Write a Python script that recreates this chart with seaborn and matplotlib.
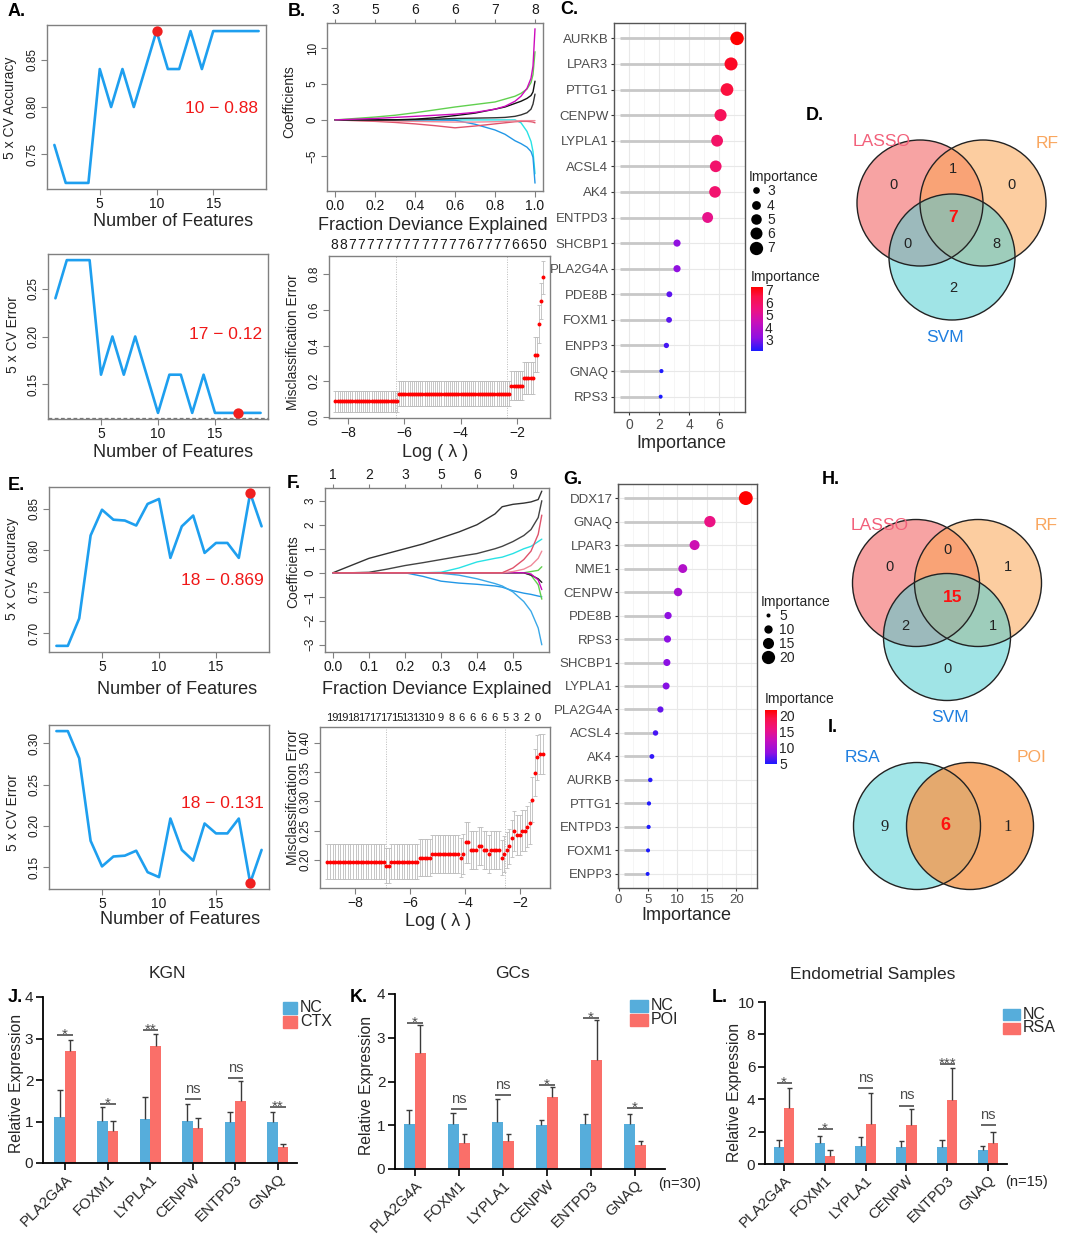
import numpy as np
import pandas as pd
import matplotlib
matplotlib.use("Agg")
import matplotlib.pyplot as plt
import seaborn as sns
from matplotlib.patches import Circle, Rectangle
from matplotlib.lines import Line2D
from matplotlib.colors import LinearSegmentedColormap, Normalize
from matplotlib.cm import ScalarMappable

# ======================= DATA =======================
# A / E : SVM-RFE 5x CV curves
n_features = list(range(1, 20))
svm_a_accuracy = [0.76, 0.72, 0.72, 0.72, 0.84, 0.80, 0.84, 0.80, 0.84, 0.88,
                  0.84, 0.84, 0.88, 0.84, 0.88, 0.88, 0.88, 0.88, 0.88]
svm_a_error = [0.24, 0.28, 0.28, 0.28, 0.16, 0.20, 0.16, 0.20, 0.16, 0.12,
               0.16, 0.16, 0.12, 0.16, 0.12, 0.12, 0.12, 0.12, 0.12]
svm_a_best_acc = (10, 0.88)
svm_a_best_err = (17, 0.12)
svm_e_accuracy = [0.685, 0.685, 0.718, 0.818, 0.849, 0.837, 0.836, 0.830, 0.856, 0.862,
                  0.791, 0.829, 0.842, 0.797, 0.809, 0.809, 0.791, 0.869, 0.829]
svm_e_error = [0.315, 0.315, 0.282, 0.182, 0.151, 0.163, 0.164, 0.170, 0.144, 0.138,
               0.209, 0.171, 0.158, 0.203, 0.191, 0.191, 0.209, 0.131, 0.171]
svm_e_best_acc = (18, 0.869)
svm_e_best_err = (18, 0.131)

# B : LASSO coefficient paths (fraction deviance explained)
b_frac = [0, 0.1, 0.2, 0.3, 0.4, 0.5, 0.6, 0.7, 0.8, 0.85, 0.9, 0.93, 0.96, 0.98, 0.99, 1.0]
b_paths = [
    [0, 0, 0, 0, 0, 0, 0, 0, 0, 0, 0, -0.4, -1.6, -3.0, -4.4, -7.5],
    [0, 0, 0, 0, 0, 0, -0.05, -0.6, -1.4, -2.0, -2.9, -3.3, -3.8, -4.4, -5.2, -8.8],
    [0, -0.1, -0.2, -0.35, -0.55, -0.8, -1.1, -0.85, -0.55, -0.4, -0.25, -0.2, -0.2, -0.25, -0.3, -0.4],
    [0, -0.05, -0.1, -0.15, -0.2, -0.25, -0.3, -0.3, -0.25, -0.2, -0.15, -0.1, -0.1, -0.1, -0.1, -0.1],
    [0, 0, 0, 0, 0.05, 0.1, 0.2, 0.25, 0.3, 0.35, 0.5, 0.7, 1.0, 1.5, 2.2, 3.6],
    [0, 0, 0, 0.02, 0.1, 0.3, 0.6, 0.95, 1.5, 1.8, 2.3, 2.6, 3.0, 3.4, 3.9, 5.4],
    [0, 0.2, 0.4, 0.65, 1.0, 1.4, 1.8, 2.15, 2.5, 2.9, 3.3, 3.7, 4.3, 5.2, 6.3, 9.5],
    [0, 0.1, 0.2, 0.35, 0.5, 0.65, 0.8, 1.05, 1.5, 1.9, 2.6, 3.3, 4.4, 5.8, 7.5, 12.7],
]
b_path_colors = ["#28E2E5", "#2297E6", "#DF536B", "#F08A9A", "#333333", "#111111", "#61D04F", "#CD0BBC"]
b_top_labels = [3, 5, 6, 6, 7, 8]

# B bottom : LASSO CV misclassification (mean, sd, number of lambdas)
b_cv_segments = [(0.088, 0.060, 30), (0.130, 0.070, 53), (0.175, 0.080, 6), (0.218, 0.088, 5),
                 (0.348, 0.098, 2), (0.520, 0.105, 1), (0.650, 0.100, 1), (0.780, 0.090, 1)]
b_log_lambda_range = (-8.45, -1.07)
b_lambda_lines = [-6.3, -2.36]
b_cv_top_counts = [8, 8, 7, 7, 7, 7, 7, 7, 7, 7, 7, 7, 7, 7, 7, 6, 7, 7, 7, 7, 6, 6, 5, 0]

# F : LASSO coefficient paths, second cohort
f_frac = [0, 0.05, 0.1, 0.15, 0.2, 0.25, 0.3, 0.35, 0.4, 0.45, 0.47, 0.5, 0.53, 0.55, 0.57, 0.58]
f_paths = [
    [0, 0.3, 0.6, 0.8, 1.0, 1.2, 1.45, 1.7, 2.0, 2.45, 2.75, 2.85, 2.9, 2.95, 3.05, 3.4],
    [0, 0, 0.02, 0.15, 0.3, 0.42, 0.55, 0.68, 0.8, 1.0, 1.1, 1.3, 1.55, 1.8, 2.3, 3.0],
    [0, 0, 0, 0, 0, 0, 0.02, 0.2, 0.45, 0.6, 0.65, 0.8, 1.0, 1.1, 1.3, 1.4],
    [0, 0, 0, 0, 0, -0.15, -0.35, -0.43, -0.48, -0.55, -0.6, -0.75, -0.85, -0.9, -0.97, -1.0],
    [0, 0, 0, 0, 0, 0, -0.02, -0.1, -0.25, -0.45, -0.55, -0.8, -1.2, -1.6, -2.3, -3.0],
    [0, 0, 0, 0, 0, 0, 0, 0, 0, 0, 0, 0, 0, 0.05, 0.1, 0.25],
    [0, 0, 0, 0, 0, 0, 0, 0, 0, 0, 0, 0, 0, -0.1, -0.5, -1.1],
    [0, 0, 0, 0, 0, 0, 0, 0, 0, 0, 0, 0, 0, -0.1, -0.25, -0.4],
    [0, 0, 0, 0, 0, 0, 0, 0, 0, 0, 0, 0, 0, -0.05, -0.3, -0.7],
    [0, 0, 0, 0, 0, 0, 0, 0, 0, 0, 0, 0.05, 0.15, 0.3, 0.6, 0.9],
    [0, 0, 0, 0, 0, 0, 0, 0, 0, 0, 0, 0.2, 0.55, 0.9, 1.6, 2.4],
]
f_path_colors = ["#333333", "#444444", "#28E2E5", "#2297E6", "#3AA8E8", "#61D04F", "#61D04F",
                 "#222222", "#CD0BBC", "#F08A9A", "#DF536B"]
f_top_labels = [1, 2, 3, 5, 6, 9]

f_cv_segments = [
    (0.197, 0.030, 23), (0.190, 0.030, 2), (0.197, 0.030, 11), (0.204, 0.031, 5), (0.210, 0.033, 11),
    (0.204, 0.034, 1), (0.210, 0.034, 1), (0.230, 0.035, 2), (0.217, 0.033, 3), (0.224, 0.032, 2),
    (0.217, 0.032, 2), (0.210, 0.032, 1), (0.217, 0.032, 4), (0.204, 0.030, 1), (0.210, 0.030, 1),
    (0.217, 0.031, 1), (0.223, 0.030, 1), (0.237, 0.032, 1), (0.250, 0.034, 1), (0.243, 0.034, 2),
    (0.250, 0.035, 2), (0.257, 0.035, 1), (0.263, 0.036, 1), (0.303, 0.038, 1), (0.349, 0.040, 1),
    (0.375, 0.038, 1), (0.381, 0.034, 2)]
f_log_lambda_range = (-9.0, -1.2)
f_lambda_lines = [-6.88, -2.57]
f_cv_top_counts = [19, 19, 18, 17, 17, 17, 15, 13, 13, 10, 9, 8, 6, 6, 6, 6, 5, 3, 2, 0]

# C / G : random forest importance
c_genes = ["AURKB", "LPAR3", "PTTG1", "CENPW", "LYPLA1", "ACSL4", "AK4", "ENTPD3",
           "SHCBP1", "PLA2G4A", "PDE8B", "FOXM1", "ENPP3", "GNAQ", "RPS3"]
c_importance = [7.2, 6.8, 6.53, 6.1, 5.87, 5.78, 5.73, 5.24, 3.2, 3.2, 2.69, 2.67, 2.49, 2.16, 2.11]
g_genes = ["DDX17", "GNAQ", "LPAR3", "NME1", "CENPW", "PDE8B", "RPS3", "SHCBP1", "LYPLA1",
           "PLA2G4A", "ACSL4", "AK4", "AURKB", "PTTG1", "ENTPD3", "FOXM1", "ENPP3"]
g_importance = [21.6, 15.5, 12.9, 10.9, 10.1, 8.4, 8.3, 8.2, 8.07, 7.1, 6.27, 5.66, 5.38,
                5.16, 5.1, 5.0, 4.93]
c_size_legend = [3, 4, 5, 6, 7]
g_size_legend = [5, 10, 15, 20]

# D / H / I : Venn counts  (order: A only, A&B, B only, all, A&C, B&C, C only)
venn_d_counts = [0, 1, 0, 7, 0, 8, 2]
venn_h_counts = [0, 0, 1, 15, 2, 1, 0]
venn_sets = ["LASSO", "RF", "SVM"]
venn_i_sets = ["RSA", "POI"]
venn_i_counts = [9, 6, 1]

# J / K / L : qPCR
qpcr_genes = ["PLA2G4A", "FOXM1", "LYPLA1", "CENPW", "ENTPD3", "GNAQ"]
kgn_nc = [1.12, 1.02, 1.06, 1.02, 0.99, 0.99]
kgn_nc_top = [1.76, 1.36, 1.58, 1.42, 1.22, 1.22]
kgn_ctx = [2.70, 0.77, 2.82, 0.85, 1.50, 0.39]
kgn_ctx_top = [2.97, 1.01, 3.10, 1.08, 1.97, 0.46]
kgn_sig = ["*", "*", "**", "ns", "ns", "**"]
kgn_sig_y = [3.09, 1.42, 3.21, 1.54, 2.04, 1.34]

gcs_nc = [1.03, 1.02, 1.08, 1.00, 1.02, 1.02]
gcs_nc_top = [1.35, 1.29, 1.60, 1.12, 1.25, 1.25]
gcs_poi = [2.66, 0.60, 0.64, 1.64, 2.50, 0.54]
gcs_poi_top = [3.30, 0.80, 0.79, 1.87, 3.40, 0.64]
gcs_sig = ["*", "ns", "ns", "*", "*", "*"]
gcs_sig_y = [3.34, 1.37, 1.69, 1.92, 3.45, 1.39]

endo_nc = [1.05, 1.29, 1.09, 1.05, 1.05, 0.88]
endo_nc_top = [1.50, 1.70, 1.64, 1.39, 1.50, 1.09]
endo_rsa = [3.44, 0.51, 2.50, 2.42, 3.95, 1.29]
endo_rsa_top = [4.71, 0.86, 4.36, 3.42, 5.90, 2.00]
endo_sig = ["*", "*", "ns", "ns", "***", "ns"]
endo_sig_y = [5.02, 2.15, 4.67, 3.60, 6.20, 2.42]

# ======================= STYLE / LAYOUT =======================
W, H = 1065, 1236
sns.set_style("ticks")
plt.rcParams['font.family'] = ['Liberation Sans', 'DejaVu Sans']
plt.rcParams['axes.unicode_minus'] = True

fig = plt.figure(figsize=(W / 100, H / 100), dpi=100)
MINUS = "\u2212"


def px_axes(l, t, r, b, **kw):
    return fig.add_axes([l / W, 1 - b / H, (r - l) / W, (b - t) / H], **kw)


def ftext(x, y, s, **kw):
    kw.setdefault('ha', 'center')
    kw.setdefault('va', 'center')
    fig.text(x / W, 1 - y / H, s, **kw)


def fmt(v, d):
    s = f"{v:.{d}f}"
    return s.replace("-", MINUS)


def r_style(ax, xlim, ylim, xticks, yticks, xd=0, yd=2, xsize=10, ysize=8.5):
    ax.set_xlim(*xlim)
    ax.set_ylim(*ylim)
    ax.set_xticks(xticks)
    ax.set_xticklabels([fmt(v, xd) for v in xticks])
    ax.set_yticks(yticks)
    ax.set_yticklabels([fmt(v, yd) for v in yticks], rotation=90, va='center')
    for s in ax.spines.values():
        s.set_visible(True)
        s.set_color('#808080')
        s.set_linewidth(1.0)
    ax.tick_params(axis='both', direction='out', length=4, width=0.8, color='#808080',
                   labelcolor='#1a1a1a', pad=2)
    ax.tick_params(axis='x', labelsize=xsize, pad=1.5)
    ax.tick_params(axis='y', labelsize=ysize)
    ax.set_xlabel('')
    ax.set_ylabel('')


LINE_BLUE = "#1E9FEF"


def svm_panel(box, yvals, best, ylim, yticks, txt_xy, ylabel, ylabel_xy, xlabel_xy, dashed=False):
    ax = px_axes(*box)
    sns.lineplot(x=n_features, y=yvals, color=LINE_BLUE, lw=1.9, ax=ax)
    sns.scatterplot(x=[best[0]], y=[best[1]], color="#F02020", s=55, linewidth=0, ax=ax, zorder=4,
                    clip_on=False)
    r_style(ax, (0.35, 19.65), ylim, [5, 10, 15], yticks)
    if dashed:
        ax.axhline(ylim[0] + 0.0008, color='#777777', lw=0.9, ls=(0, (3, 2)))
    ax.text(txt_xy[0], txt_xy[1], f"{best[0]} {MINUS} {best[1]:g}", transform=ax.transAxes,
            ha='center', va='center', color='#F01818', fontsize=12.5)
    ftext(*ylabel_xy, ylabel, rotation=90, fontsize=10)
    ftext(*xlabel_xy, "Number of Features", fontsize=13)
    return ax


# ---- A ----
svm_panel((47, 25, 266, 189), svm_a_accuracy, svm_a_best_acc, (0.7136, 0.8864), [0.75, 0.80, 0.85],
          (0.795, 0.49), "5 x CV Accuracy", (10, 108), (173, 221))
svm_panel((48, 254, 268, 419), svm_a_error, svm_a_best_err, (0.1136, 0.2864), [0.15, 0.20, 0.25],
          (0.805, 0.515), "5 x CV Error", (13, 335), (173, 453), dashed=True)
# ---- E ----
svm_panel((49, 487, 269, 652), svm_e_accuracy, svm_e_best_acc, (0.6776, 0.8764),
          [0.70, 0.75, 0.80, 0.85], (0.79, 0.436), "5 x CV Accuracy", (12, 569), (177, 689))
svm_panel((49, 725, 269, 889), svm_e_error, svm_e_best_err, (0.1236, 0.3224),
          [0.15, 0.20, 0.25, 0.30], (0.79, 0.524), "5 x CV Error", (13, 813), (180, 919))


# ---- coefficient paths ----
def path_panel(box, frac, paths, colors, xlim, ylim, xticks, yticks, xd, top_labels,
               ylabel_xy, xlabel_xy):
    ax = px_axes(*box)
    for p, c in zip(paths, colors):
        sns.lineplot(x=frac, y=p, color=c, lw=1.0, ax=ax)
    r_style(ax, xlim, ylim, xticks, yticks, xd=xd, yd=0)
    ax.set_yticklabels([fmt(v, 0) for v in yticks], rotation=90, va='center')
    sec = ax.secondary_xaxis('top')
    sec.set_xticks(xticks)
    sec.set_xticklabels([str(v) for v in top_labels])
    sec.tick_params(length=3, width=0.8, color='#808080', labelsize=10, pad=1, labelcolor='#1a1a1a')
    sec.spines['top'].set_visible(False)
    ftext(*ylabel_xy, "Coefficients", rotation=90, fontsize=10)
    ftext(*xlabel_xy, "Fraction Deviance Explained", fontsize=13)
    return ax


path_panel((327, 23, 543, 191), b_frac, b_paths, b_path_colors, (-0.04, 1.04), (-9.9, 13.5),
           [0.0, 0.2, 0.4, 0.6, 0.8, 1.0], [-5, 0, 5, 10], 1, b_top_labels, (289, 102), (433, 225))
path_panel((325, 488, 549, 652), f_frac, f_paths, f_path_colors, (-0.022, 0.6), (-3.3, 3.53),
           [0.0, 0.1, 0.2, 0.3, 0.4, 0.5], [-3, -2, -1, 0, 1, 2, 3], 1, f_top_labels, (293, 572),
           (437, 690))


# ---- CV misclassification ----
def cv_panel(box, segments, xr, vlines, top_counts, top_range, top_size, xlim, ylim, yticks,
             ylabel_xy, xlabel_xy):
    ax = px_axes(*box)
    means = np.concatenate([[m] * n for m, s, n in segments])
    sds = np.concatenate([[s] * n for m, s, n in segments])
    x = np.linspace(xr[0], xr[1], len(means))
    ax.errorbar(x, means, yerr=sds, fmt='none', ecolor='#BDBDBD', elinewidth=0.6,
                capsize=1.3, capthick=0.6, zorder=2)
    sns.scatterplot(x=x, y=means, color='#FF0000', s=8, linewidth=0, ax=ax, zorder=3)
    for v in vlines:
        ax.axvline(v, color='#BBBBBB', lw=0.7, ls=(0, (1, 1.5)), zorder=1)
    r_style(ax, xlim, ylim, [-8, -6, -4, -2], yticks, xd=0, yd=1 if ylim[1] > 0.5 else 2)
    sec = ax.secondary_xaxis('top')
    sec.set_xticks(np.linspace(top_range[0], top_range[1], len(top_counts)))
    sec.set_xticklabels([str(v) for v in top_counts])
    sec.tick_params(length=0, labelsize=top_size, pad=3, labelcolor='#1a1a1a')
    sec.spines['top'].set_visible(False)
    ftext(*ylabel_xy, "Misclassification Error", rotation=90, fontsize=10)
    ftext(*xlabel_xy, "Log ( \u03bb )", fontsize=13)
    return ax


cv_panel((329, 256, 550, 418), b_cv_segments, b_log_lambda_range, b_lambda_lines, b_cv_top_counts,
         (-8.5, -1.1), 10, (-8.68, -0.83), (-0.005, 0.9), [0.0, 0.2, 0.4, 0.6, 0.8],
         (293, 342), (435, 453))
cv_panel((320, 727, 550, 888), f_cv_segments, f_log_lambda_range, f_lambda_lines, f_cv_top_counts,
         (-8.84, -1.37), 8, (-9.27, -0.93), (0.152, 0.427), [0.20, 0.25, 0.30, 0.35, 0.40],
         (293, 797), (438, 921))

# ---- lollipop (random forest) ----
imp_cmap = LinearSegmentedColormap.from_list(
    "imp", [(0.0, "#1A1AFF"), (0.2, "#8E10E2"), (0.45, "#C810BA"), (0.65, "#EE1280"),
            (0.85, "#FA1248"), (1.0, "#FF0000")])


def lollipop(box, genes, imp, seg_start, xlim, xticks, xminor, sizes, legend_vals,
             leg_xy, cbar_box, cbar_ticks, cbar_title_xy, xlabel_xy, leg_spacing, xtick_size):
    ax = px_axes(*box)
    y = np.arange(len(genes))
    vmin, vmax = min(imp), max(imp)
    ax.set_axisbelow(True)
    ax.hlines(y, seg_start, imp, color='#C8C8C8', lw=2.0, zorder=2)
    sns.scatterplot(x=imp, y=y, hue=imp, size=imp, palette=imp_cmap, hue_norm=(vmin, vmax),
                    sizes=sizes, size_norm=(vmin, vmax), linewidth=0, legend=False, ax=ax, zorder=3)
    ax.set_xlim(*xlim)
    ax.set_ylim(len(genes) - 1 + 0.6, -0.6)
    ax.set_xticks(xticks)
    ax.set_xticks(xminor, minor=True)
    ax.set_xticklabels([str(v) for v in xticks])
    ax.set_yticks(y)
    ax.set_yticklabels(genes)
    ax.grid(which='major', color='#E8E8E8', lw=0.8)
    ax.grid(which='minor', axis='x', color='#F2F2F2', lw=0.5)
    for s in ax.spines.values():
        s.set_visible(True)
        s.set_color('#555555')
        s.set_linewidth(1.0)
    ax.tick_params(axis='y', length=2.5, width=0.8, color='#333333', labelsize=9.5,
                   labelcolor='#4D4D4D', pad=1.5)
    ax.tick_params(axis='x', which='major', length=2.5, width=0.8, color='#333333',
                   labelsize=xtick_size, labelcolor='#4D4D4D', pad=1.5)
    ax.tick_params(axis='x', which='minor', length=0)
    ax.set_xlabel('')
    ax.set_ylabel('')
    ftext(*xlabel_xy, "Importance", fontsize=13)
    # size legend
    handles = [Line2D([], [], ls='', marker='o', color='black', markeredgewidth=0,
                      markersize=np.sqrt(sizes[0] + (sizes[1] - sizes[0]) * (v - vmin) / (vmax - vmin)))
               for v in legend_vals]
    fig.legend(handles, [str(v) for v in legend_vals], title="Importance", loc='upper left',
               bbox_to_anchor=(leg_xy[0] / W, 1 - leg_xy[1] / H), frameon=False, fontsize=10,
               title_fontsize=10, alignment='left', labelspacing=leg_spacing, handletextpad=0.3,
               borderpad=0, borderaxespad=0, handlelength=1.0)
    # colour bar
    cax = px_axes(*cbar_box)
    cb = fig.colorbar(ScalarMappable(norm=Normalize(vmin, vmax), cmap=imp_cmap), cax=cax,
                      ticks=cbar_ticks)
    cb.outline.set_visible(False)
    cax.tick_params(length=3, width=0.8, color='white', direction='in', labelsize=10, pad=1.5)
    ftext(*cbar_title_xy, "Importance", ha='left', fontsize=10)
    return ax


lollipop((614, 23, 745, 412), c_genes, c_importance, -0.6, (-1.0, 7.73), [0, 2, 4, 6], [1, 3, 5, 7],
         (8, 95), c_size_legend, (749, 170), (751, 287, 763, 351), [3, 4, 5, 6, 7], (751, 277),
         (681, 443), 0.02, 10)
lollipop((618, 484, 757, 888), g_genes, g_importance, 1.0, (-0.1, 23.5), [0, 5, 10, 15, 20],
         [2.5, 7.5, 12.5, 17.5, 22.5], (8, 100), g_size_legend, (761, 595), (765, 710, 777, 764),
         [5, 10, 15, 20], (765, 699), (686, 916), 0.0, 9.5)

# ---- qPCR bars ----
NC_COL, CASE_COL = "#56ADDB", "#FA6F69"


def qpcr_panel(box, nc, nc_top, case, case_top, case_name, sig, sig_y, xlim, ylim, yticks,
               title, title_xy, ylabel_xy, leg_xy, leg_sq, note=None, note_xy=None):
    ax = px_axes(*box)
    df = pd.DataFrame({'gene': qpcr_genes * 2,
                       'group': ['NC'] * len(nc) + [case_name] * len(case),
                       'value': nc + case})
    sns.barplot(data=df, x='gene', y='value', hue='group', palette=[NC_COL, CASE_COL], width=0.5,
                gap=0, errorbar=None, saturation=1, linewidth=0, ax=ax, legend=False)
    xs = np.arange(len(qpcr_genes))
    for off, m, t in ((-0.125, nc, nc_top), (0.125, case, case_top)):
        ax.vlines(xs + off, m, t, color='#3A3A3A', lw=1.0, zorder=3)
        ax.hlines(t, xs + off - 0.065, xs + off + 0.065, color='#3A3A3A', lw=1.0, zorder=3)
    ax.hlines(sig_y, xs - 0.18, xs + 0.19, color='#4D4D4D', lw=1.2)
    for x, lab, yv in zip(xs, sig, sig_y):
        if lab == 'ns':
            ax.annotate(lab, (x, yv), xytext=(0, 4.5), textcoords='offset points', ha='center',
                        va='baseline', fontsize=10.5, color='#4D4D4D')
        else:
            ax.annotate(lab, (x, yv), xytext=(0, -2.8), textcoords='offset points', ha='center',
                        va='baseline', fontsize=11, color='#4D4D4D')
    ax.set_xlim(*xlim)
    ax.set_ylim(*ylim)
    ax.set_yticks(yticks)
    ax.set_yticklabels([str(v) for v in yticks])
    ax.set_xticks(xs)
    ax.set_xticklabels(qpcr_genes, rotation=45, ha='right', va='top', rotation_mode='anchor')
    sns.despine(ax=ax)
    for s in ('left', 'bottom'):
        ax.spines[s].set_color('black')
        ax.spines[s].set_linewidth(1.3)
    ax.tick_params(axis='both', direction='out', length=5, width=1.2, color='black', labelsize=11,
                   pad=2)
    ax.tick_params(axis='x', labelsize=10.8, pad=1.5)
    ax.set_xlabel('')
    ax.set_ylabel('')
    ftext(*title_xy, title, fontsize=12.5)
    ftext(*ylabel_xy, "Relative Expression", rotation=90, fontsize=11.3)
    # legend squares
    for i, (lab, col) in enumerate((('NC', NC_COL), (case_name, CASE_COL))):
        yy = leg_xy[1] + i * 13.5
        fig.patches.append(Rectangle((leg_xy[0] / W, 1 - (yy + leg_sq[1]) / H), leg_sq[0] / W,
                                     leg_sq[1] / H, transform=fig.transFigure, color=col))
        ftext(leg_xy[0] + leg_sq[0] + 3, yy + leg_sq[1] / 2, lab, ha='left', fontsize=11.5)
    if note:
        ftext(*note_xy, note, fontsize=10.5)
    return ax


qpcr_panel((43, 997, 297, 1163), kgn_nc, kgn_nc_top, kgn_ctx, kgn_ctx_top, "CTX", kgn_sig, kgn_sig_y,
           (-0.52, 5.45), (0, 4), [0, 1, 2, 3, 4], "KGN", (167, 973), (17, 1083), (283, 1002),
           (14, 12))
qpcr_panel((395, 994, 665, 1169), gcs_nc, gcs_nc_top, gcs_poi, gcs_poi_top, "POI", gcs_sig, gcs_sig_y,
           (-0.45, 5.68), (0, 4), [0, 1, 2, 3, 4], "GCs", (513, 973), (367, 1085), (630, 1000),
           (18, 12), "(n=30)", (680, 1184))
qpcr_panel((765, 1002, 1007, 1164), endo_nc, endo_nc_top, endo_rsa, endo_rsa_top, "RSA", endo_sig,
           endo_sig_y, (-0.47, 5.47), (0, 10), [0, 2, 4, 6, 8, 10], "Endometrial Samples",
           (873, 974), (735, 1092), (1003, 1009), (17, 11), "(n=15)", (1027, 1182))

# ---- overlay: Venn diagrams & panel letters ----
over = fig.add_axes([0, 0, 1, 1], zorder=20)
over.set_xlim(0, W)
over.set_ylim(H, 0)
over.axis('off')
over.patch.set_alpha(0)

V_FILL = ["#F25858", "#FBA452", "#52CED2"]
V_LAB = ["#F2607A", "#F9A65E", "#1F7FE0"]


def venn3(centers, r, counts, count_xy, label_xy, big_idx=3):
    for (cx, cy), col in zip(centers, V_FILL):
        over.add_patch(Circle((cx, cy), r, facecolor=col, alpha=0.55, edgecolor='none'))
    for cx, cy in centers:
        over.add_patch(Circle((cx, cy), r, facecolor='none', edgecolor='#222222', lw=1.0))
    for i, (n, (x, y)) in enumerate(zip(counts, count_xy)):
        if i == big_idx:
            over.text(x, y, str(n), ha='center', va='center', color='#FF1010', fontsize=12.5,
                      fontweight='bold')
        else:
            over.text(x, y, str(n), ha='center', va='center', color='#222222', fontsize=10.5)
    for lab, (x, y), col in zip(venn_sets, label_xy, V_LAB):
        over.text(x, y, lab, ha='center', va='center', color=col, fontsize=12.5)


venn3([(920, 203), (983, 203), (952, 257)], 63, venn_d_counts,
      [(893, 185), (953, 169), (1012, 185), (953, 217), (908, 244), (996, 244), (953, 288)],
      [(882, 141), (1047, 143), (945, 338)])
venn3([(916, 583), (978, 583), (947, 637)], 63.5, venn_h_counts,
      [(889, 567), (948, 550), (1008, 567), (953, 598), (905, 626), (993, 626), (948, 669)],
      [(880, 525), (1046, 525), (950, 718)])

# I : two-set Venn
over.add_patch(Circle((917, 826), 63.5, facecolor="#A2E6E8", edgecolor='none'))
over.add_patch(Circle((970, 826), 63.5, facecolor="#F59A50", alpha=0.8, edgecolor='none'))
over.add_patch(Circle((917, 826), 63.5, facecolor='none', edgecolor='#222222', lw=1.0))
over.add_patch(Circle((970, 826), 63.5, facecolor='none', edgecolor='#222222', lw=1.0))
over.text(885, 827, str(venn_i_counts[0]), ha='center', va='center', fontsize=12,
          family='Liberation Serif', color='#222222')
over.text(945, 826, str(venn_i_counts[1]), ha='center', va='center', fontsize=13,
          fontweight='bold', color='#FF1010')
over.text(1008, 827, str(venn_i_counts[2]), ha='center', va='center', fontsize=12,
          family='Liberation Serif', color='#222222')
over.text(863, 757, venn_i_sets[0], ha='center', va='center', color="#1F7FE0", fontsize=12.5)
over.text(1032, 757, venn_i_sets[1], ha='center', va='center', color="#F9A65E", fontsize=12.5)

for lab, x, y in [("A.", 8, 12), ("B.", 288, 12), ("C.", 560, 10), ("D.", 806, 116),
                  ("E.", 8, 486), ("F.", 287, 483), ("G.", 563, 479), ("H.", 822, 479),
                  ("I.", 828, 727), ("J.", 8, 998), ("K.", 350, 998), ("L.", 712, 998)]:
    over.text(x, y, lab, ha='left', va='center', fontsize=13, fontweight='bold', color='black')

fig.savefig("out.png", dpi=100)
